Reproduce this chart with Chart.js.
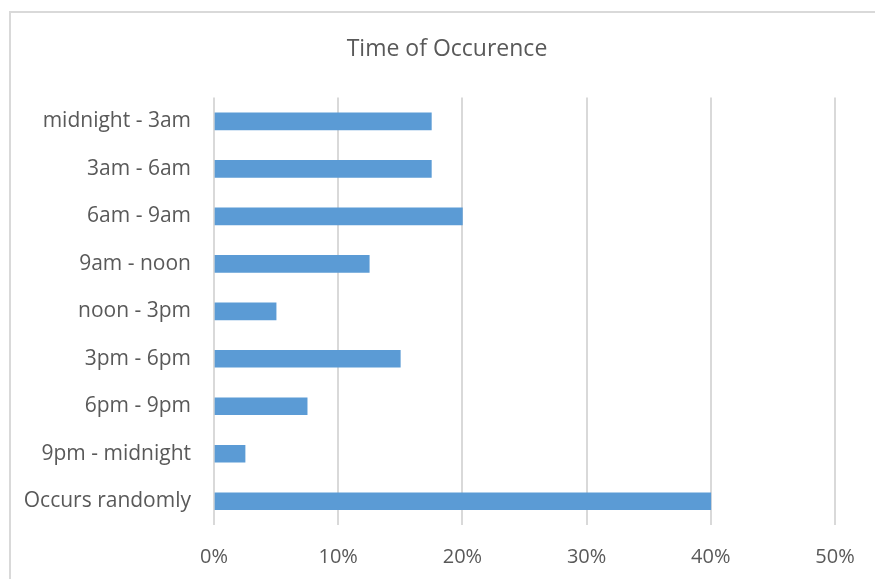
<!DOCTYPE html>
<html>
<head>
<meta charset="utf-8">
<script src="https://cdn.jsdelivr.net/npm/chart.js@4/dist/chart.umd.min.js"></script>
<style>
    html, body { margin: 0; padding: 0; background: #fff; overflow: hidden; }
    #frame {
        position: absolute; left: 9px; top: 11px;
        width: 900px; height: 600px;
        border: 2px solid #d9d9d9; box-sizing: border-box;
    }
    #wrap { position: absolute; left: 0; top: 0; width: 875px; height: 579px; }
</style>
</head>
<body>
<div id="frame"></div>
<div id="wrap"><canvas id="timeChart" width="875" height="579"></canvas></div>
<script>
// 발생 시간대 데이터
const timeSlots = [
    'midnight - 3am', '3am - 6am', '6am - 9am', '9am - noon', 'noon - 3pm',
    '3pm - 6pm', '6pm - 9pm', '9pm - midnight', 'Occurs randomly'
];
const shares = [17.5, 17.5, 20, 12.5, 5, 15, 7.5, 2.5, 40];
const axisMax = 50;
const axisStep = 10;

const FONT = "'Open Sans', 'Noto Sans', sans-serif";
const TEXT = '#595959';

// 제목을 프레임 중앙으로 옮김 (기본은 캔버스 폭 기준 중앙)
const centerTitle = {
    id: 'centerTitle',
    afterLayout(chart) {
        if (chart.titleBlock) {
            chart.titleBlock.left = 59;
        }
    }
};

new Chart(document.getElementById('timeChart'), {
    type: 'bar',
    data: {
        labels: timeSlots,
        datasets: [{
            data: shares,
            backgroundColor: '#5b9bd5',
            barThickness: 17
        }]
    },
    options: {
        indexAxis: 'y',
        responsive: false,
        animation: false,
        layout: { padding: { left: 0, right: 40, top: 0, bottom: 0 } },
        plugins: {
            legend: { display: false },
            tooltip: { enabled: false },
            title: {
                display: true,
                text: 'Time of Occurence',
                color: TEXT,
                font: { family: FONT, size: 23, weight: 'normal', lineHeight: 1.2 },
                padding: { top: 36, bottom: 34 }
            }
        },
        scales: {
            x: {
                min: 0,
                max: axisMax,
                ticks: {
                    stepSize: axisStep,
                    color: TEXT,
                    font: { family: FONT, size: 20 },
                    padding: 20,
                    callback: v => v + '%'
                },
                grid: { color: '#d9d9d9', lineWidth: 2, drawTicks: false },
                border: { display: false },
                afterFit: s => { s.height = 54; }
            },
            y: {
                ticks: {
                    color: TEXT,
                    font: { family: FONT, size: 21 },
                    padding: 23
                },
                grid: { display: false, drawTicks: false },
                border: { display: false },
                afterFit: s => { s.width = 214; }
            }
        }
    },
    plugins: [centerTitle]
});
</script>
</body>
</html>
